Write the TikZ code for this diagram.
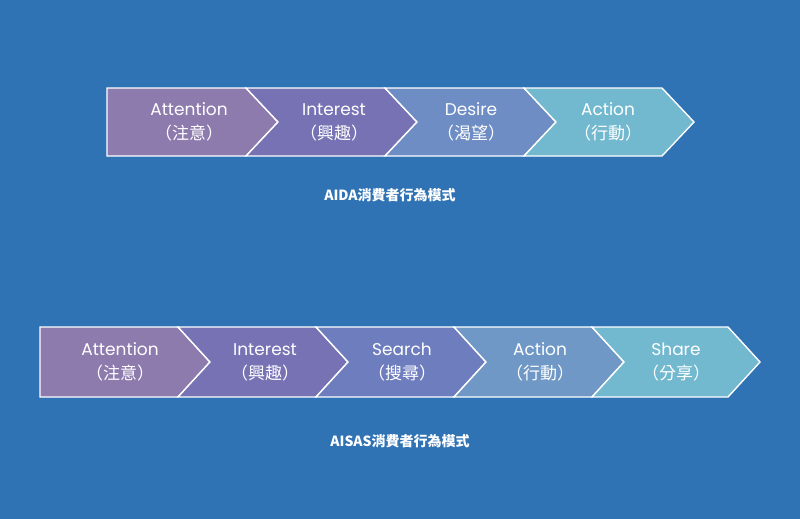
\documentclass[tikz,border=0pt]{standalone}
\usepackage{fontspec}
\setmainfont{Noto Sans CJK TC}
\newfontfamily\latfont{Poppins}
\definecolor{bg}{HTML}{2F73B5}
\definecolor{ca}{HTML}{8E7BAE}
\definecolor{cb}{HTML}{7672B4}
\definecolor{cc}{HTML}{6E8DC4}
\definecolor{cd}{HTML}{72B9CF}
\definecolor{dc}{HTML}{6E7DBE}
\definecolor{dd}{HTML}{7098C7}
\tikzset{seg/.style={draw=white,line width=1.4pt,line join=miter},
 lab/.style={text=white,align=center,font=\fontsize{17}{24}\selectfont},
 ttl/.style={text=white,font=\bfseries\fontsize{14}{16}\selectfont}}
\newcommand{\chev}[7]{% x0,w,d,top,bot,color,first
 \pgfmathsetmacro{\mid}{(#4+#5)/2}
 \ifnum#7=1
 \fill[#6] (#1,#4) -- (#1+#2,#4) -- (#1+#2+#3,\mid) -- (#1+#2,#5) -- (#1,#5) -- cycle;
 \draw[seg] (#1,#4) -- (#1+#2,#4) -- (#1+#2+#3,\mid) -- (#1+#2,#5) -- (#1,#5) -- cycle;
 \else
 \fill[#6] (#1,#4) -- (#1+#2,#4) -- (#1+#2+#3,\mid) -- (#1+#2,#5) -- (#1,#5) -- (#1+#3,\mid) -- cycle;
 \draw[seg] (#1,#4) -- (#1+#2,#4) -- (#1+#2+#3,\mid) -- (#1+#2,#5) -- (#1,#5) -- (#1+#3,\mid) -- cycle;
 \fi}
\begin{document}
\begin{tikzpicture}[x=1pt,y=-1pt]
\fill[bg] (0,0) rectangle (800,519);
\useasboundingbox (0,0) rectangle (800,519);
% top row
\chev{107}{139}{32}{88}{156}{ca}{1}
\chev{246}{139}{32}{88}{156}{cb}{0}
\chev{385}{139}{32}{88}{156}{cc}{0}
\chev{524}{138}{32}{88}{156}{cd}{0}
\node[lab] (t1) at (189,122) {{\latfont Attention}\\（注意）};
\node[lab] (t2) at (334,122) {{\latfont Interest}\\（興趣）};
\node[lab] (t3) at (471,122) {{\latfont Desire}\\（渴望）};
\node[lab] (t4) at (608,122) {{\latfont Action}\\（行動）};
\node[ttl] (aida) at (390,195) {AIDA消費者行為模式};
% bottom row
\chev{40}{138}{32}{327}{397}{ca}{1}
\chev{178}{138}{32}{327}{397}{cb}{0}
\chev{316}{138}{32}{327}{397}{dc}{0}
\chev{454}{138}{32}{327}{397}{dd}{0}
\chev{592}{136}{32}{327}{397}{cd}{0}
\node[lab] (b1) at (120,362) {{\latfont Attention}\\（注意）};
\node[lab] (b2) at (265,362) {{\latfont Interest}\\（興趣）};
\node[lab] (b3) at (402,362) {{\latfont Search}\\（搜尋）};
\node[lab] (b4) at (540,362) {{\latfont Action}\\（行動）};
\node[lab] (b5) at (676,362) {{\latfont Share}\\（分享）};
\node[ttl] (aisas) at (400,441) {AISAS消費者行為模式};
\end{tikzpicture}
\end{document}
